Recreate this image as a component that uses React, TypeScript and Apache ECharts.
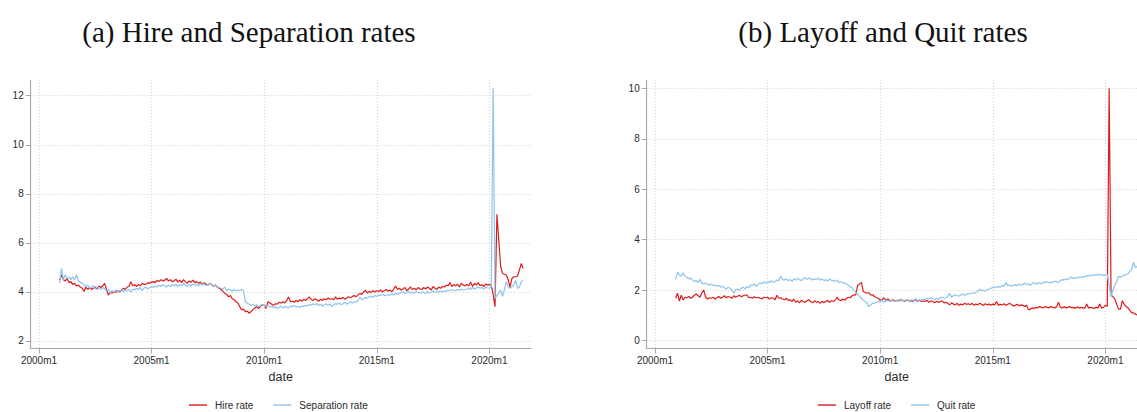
import React, { useEffect, useRef } from "react";
import * as echarts from "echarts";

// months are counted from 2000m1 (= 0); the series start in 2000m12
const START_MONTH = 11;

const titles = ["(a) Hire and Separation rates", "(b) Layoff and Quit rates"];
const seriesNames = ["Hire rate", "Separation rate", "Layoff rate", "Quit rate"];

const xTickMonths = [0, 60, 120, 180, 240];
const yTicksA = [2, 4, 6, 8, 10, 12];
const yTicksB = [0, 2, 4, 6, 8, 10];

const hireRate = [
  4.48,
  4.69, 4.5, 4.45, 4.55, 4.38, 4.42, 4.3, 4.35, 4.24, 4.28, 4.2, 4.15,
  4.02, 4.2, 4.1, 4.18, 4.1, 4.15, 4.2, 4.12, 4.24, 4.18, 4.25, 4.35,
  4.1, 3.87, 4.0, 3.95, 4.02, 3.98, 4.05, 4.0, 4.08, 4.15, 4.1, 4.2,
  4.22, 4.42, 4.25, 4.3, 4.22, 4.3, 4.25, 4.35, 4.3, 4.32, 4.38, 4.35,
  4.4, 4.42, 4.38, 4.48, 4.42, 4.5, 4.45, 4.48, 4.55, 4.45, 4.5, 4.42,
  4.45, 4.52, 4.4, 4.48, 4.38, 4.5, 4.42, 4.35, 4.45, 4.4, 4.48, 4.38,
  4.42, 4.35, 4.4, 4.3, 4.38, 4.32, 4.28, 4.35, 4.3, 4.22, 4.28, 4.2,
  4.15, 4.1, 4.02, 3.95, 3.9, 3.8, 3.85, 3.72, 3.68, 3.6, 3.55, 3.4,
  3.26, 3.3, 3.2, 3.22, 3.13, 3.2, 3.28, 3.35, 3.4, 3.32, 3.42, 3.47,
  3.47, 3.33, 3.6, 3.55, 3.5, 3.45, 3.52, 3.5, 3.58, 3.55, 3.6, 3.55,
  3.65, 3.8, 3.6, 3.62, 3.58, 3.65, 3.6, 3.68, 3.62, 3.7, 3.65, 3.72,
  3.8, 3.7, 3.65, 3.72, 3.68, 3.62, 3.7, 3.65, 3.72, 3.68, 3.75, 3.7,
  3.72, 3.68, 3.8, 3.7, 3.75, 3.72, 3.78, 3.7, 3.75, 3.8, 3.76, 3.82,
  3.85, 3.8, 3.88, 3.94, 3.9, 4.0, 4.07, 3.95, 4.02, 3.98, 4.05, 4.0,
  4.05, 4.02, 4.08, 4.0, 4.05, 4.1, 4.03, 4.08, 4.0, 4.12, 4.24, 4.1,
  4.15, 4.08, 4.12, 4.18, 4.05, 4.12, 4.2, 4.1, 4.15, 4.08, 4.18, 4.12,
  4.1, 4.18, 4.12, 4.2, 4.15, 4.08, 4.22, 4.15, 4.1, 4.2, 4.15, 4.22,
  4.2, 4.28, 4.25, 4.38, 4.22, 4.3, 4.25, 4.32, 4.2, 4.35, 4.28, 4.25,
  4.3, 4.25, 4.4, 4.22, 4.35, 4.28, 4.38, 4.25, 4.3, 4.22, 4.32, 4.28,
  4.31, 4.25, 3.9, 3.4, 7.17, 6.1, 5.03, 4.76, 4.72, 4.69, 4.5, 4.2,
  4.55, 4.62, 4.62, 4.65, 4.9, 5.16, 4.96,
];

const separationRate = [
  4.35,
  4.96, 4.5, 4.7, 4.55, 4.6, 4.5, 4.62, 4.5, 4.69, 4.45, 4.4, 4.35,
  4.3, 4.22, 4.28, 4.15, 4.2, 4.25, 4.12, 4.2, 4.15, 4.1, 4.18, 4.12,
  4.05, 4.1, 3.95, 4.05, 4.0, 4.08, 4.02, 4.05, 4.1, 4.0, 4.08, 4.05,
  4.1, 4.0, 4.12, 4.08, 4.15, 4.1, 4.18, 4.05, 4.15, 4.2, 4.12, 4.18,
  4.22, 4.18, 4.25, 4.2, 4.28, 4.22, 4.3, 4.25, 4.2, 4.28, 4.22, 4.3,
  4.25, 4.32, 4.22, 4.3, 4.25, 4.35, 4.28, 4.22, 4.3, 4.25, 4.32, 4.28,
  4.3, 4.25, 4.35, 4.28, 4.32, 4.25, 4.3, 4.35, 4.28, 4.22, 4.3, 4.2,
  4.18, 4.15, 4.1, 4.2, 4.05, 4.12, 4.08, 4.02, 4.1, 4.05, 4.08, 4.05,
  4.1, 4.05, 3.6, 3.55, 3.5, 3.45, 3.5, 3.42, 3.48, 3.4, 3.45, 3.5,
  3.47, 3.4, 3.45, 3.38, 3.42, 3.35, 3.4, 3.32, 3.38, 3.42, 3.35, 3.4,
  3.38, 3.35, 3.42, 3.4, 3.45, 3.38, 3.42, 3.36, 3.44, 3.4, 3.46, 3.42,
  3.5, 3.45, 3.52, 3.48, 3.53, 3.45, 3.5, 3.42, 3.48, 3.52, 3.46, 3.5,
  3.4, 3.48, 3.52, 3.5, 3.55, 3.48, 3.52, 3.58, 3.5, 3.55, 3.6, 3.55,
  3.6, 3.58, 3.65, 3.8, 3.68, 3.72, 3.78, 3.75, 3.8, 3.82, 3.78, 3.85,
  3.82, 3.88, 3.85, 3.9, 3.87, 3.84, 3.9, 3.86, 3.92, 3.88, 3.95, 3.9,
  3.95, 3.98, 4.0, 3.92, 3.98, 4.02, 3.95, 4.0, 3.96, 4.02, 3.98, 3.95,
  3.98, 4.0, 3.92, 4.02, 3.96, 4.0, 4.05, 3.98, 4.02, 4.0, 4.04, 4.0,
  4.05, 4.02, 4.08, 4.05, 4.1, 4.07, 4.04, 4.1, 4.06, 4.12, 4.08, 4.1,
  4.12, 4.15, 4.1, 4.18, 4.12, 4.16, 4.2, 4.15, 4.18, 4.12, 4.2, 4.16,
  4.15, 4.2, 12.3, 3.74, 3.85, 3.95, 4.08, 3.82, 4.1, 4.42, 4.2, 4.15,
  4.2, 4.3, 4.48, 4.15, 4.2, 4.42, 4.5,
];

const layoffRate = [
  1.68,
  1.88, 1.57, 1.8, 1.62, 1.72, 1.7, 1.75, 1.68, 1.72, 1.8, 1.85, 1.78,
  1.72, 1.9, 2.0, 1.72, 1.65, 1.7, 1.68, 1.72, 1.65, 1.7, 1.75, 1.68,
  1.72, 1.78, 1.7, 1.75, 1.72, 1.68, 1.78, 1.72, 1.76, 1.8, 1.74, 1.78,
  1.8, 1.82, 1.7, 1.72, 1.68, 1.74, 1.7, 1.72, 1.68, 1.65, 1.72, 1.7,
  1.72, 1.65, 1.7, 1.68, 1.62, 1.8, 1.68, 1.7, 1.65, 1.62, 1.68, 1.6,
  1.62, 1.55, 1.65, 1.52, 1.58, 1.5, 1.6, 1.55, 1.52, 1.58, 1.62, 1.55,
  1.5, 1.58, 1.52, 1.55, 1.48, 1.56, 1.5, 1.55, 1.6, 1.52, 1.58, 1.55,
  1.6, 1.72, 1.62, 1.58, 1.65, 1.6, 1.68, 1.72, 1.7, 1.78, 1.82, 1.8,
  2.2, 2.25, 2.31, 1.94, 1.92, 1.88, 1.9, 1.8, 1.82, 1.75, 1.7, 1.68,
  1.6, 1.62, 1.7, 1.58, 1.65, 1.6, 1.58, 1.62, 1.55, 1.6, 1.58, 1.62,
  1.6, 1.55, 1.62, 1.58, 1.6, 1.55, 1.58, 1.62, 1.56, 1.6, 1.55, 1.58,
  1.55, 1.6, 1.52, 1.58, 1.55, 1.5, 1.56, 1.52, 1.55, 1.58, 1.5, 1.52,
  1.48, 1.42, 1.5, 1.45, 1.42, 1.48, 1.4, 1.45, 1.42, 1.48, 1.44, 1.46,
  1.42, 1.48, 1.4, 1.45, 1.42, 1.48, 1.44, 1.4, 1.46, 1.42, 1.45, 1.4,
  1.45, 1.42, 1.55, 1.4, 1.44, 1.42, 1.46, 1.4, 1.44, 1.48, 1.42, 1.38,
  1.4, 1.44, 1.38, 1.42, 1.4, 1.36, 1.4, 1.22, 1.25, 1.3, 1.28, 1.32,
  1.3, 1.35, 1.32, 1.3, 1.36, 1.32, 1.3, 1.35, 1.32, 1.3, 1.34, 1.52,
  1.32, 1.3, 1.34, 1.3, 1.32, 1.35, 1.3, 1.32, 1.28, 1.34, 1.3, 1.32,
  1.3, 1.28, 1.45, 1.3, 1.32, 1.3, 1.28, 1.32, 1.3, 1.45, 1.3, 1.32,
  1.41, 1.35, 10.0, 1.8, 1.75, 1.65, 1.45, 1.25, 1.25, 1.58, 1.45, 1.35,
  1.3, 1.2, 1.1, 1.1, 1.05, 1.02, 1.0,
];

const quitRate = [
  2.43,
  2.73, 2.6, 2.55, 2.69, 2.55, 2.5, 2.45, 2.48, 2.4, 2.35, 2.38, 2.3,
  2.43, 2.27, 2.25, 2.3, 2.22, 2.2, 2.25, 2.18, 2.2, 2.15, 2.2, 2.12,
  2.15, 2.1, 2.05, 2.12, 2.08, 2.0, 1.88, 2.02, 2.05, 2.0, 2.08, 2.12,
  2.05, 2.15, 2.1, 2.2, 2.18, 2.25, 2.15, 2.22, 2.3, 2.25, 2.32, 2.28,
  2.34, 2.3, 2.38, 2.32, 2.35, 2.4, 2.38, 2.56, 2.42, 2.4, 2.45, 2.38,
  2.42, 2.35, 2.45, 2.4, 2.48, 2.42, 2.38, 2.45, 2.5, 2.42, 2.48, 2.45,
  2.4, 2.45, 2.42, 2.48, 2.4, 2.45, 2.38, 2.42, 2.36, 2.44, 2.4, 2.38,
  2.35, 2.4, 2.3, 2.35, 2.28, 2.3, 2.25, 2.2, 2.15, 2.1, 2.0, 1.92,
  1.85, 1.75, 1.68, 1.6, 1.55, 1.5, 1.35, 1.42, 1.48, 1.5, 1.52, 1.55,
  1.55, 1.6, 1.52, 1.58, 1.6, 1.55, 1.62, 1.58, 1.55, 1.6, 1.62, 1.58,
  1.6, 1.58, 1.62, 1.6, 1.55, 1.62, 1.6, 1.65, 1.58, 1.62, 1.6, 1.65,
  1.62, 1.68, 1.65, 1.7, 1.66, 1.62, 1.68, 1.64, 1.7, 1.72, 1.68, 1.7,
  1.75, 1.88, 1.72, 1.78, 1.82, 1.8, 1.76, 1.82, 1.85, 1.8, 1.84, 1.88,
  1.85, 1.9, 1.88, 1.92, 1.95, 2.04, 1.98, 2.0, 1.96, 2.02, 2.05, 2.08,
  2.1, 2.14, 2.1, 2.15, 2.12, 2.2, 2.15, 2.3, 2.18, 2.2, 2.16, 2.2,
  2.22, 2.18, 2.25, 2.2, 2.24, 2.28, 2.22, 2.25, 2.2, 2.26, 2.3, 2.24,
  2.28, 2.3, 2.25, 2.32, 2.3, 2.35, 2.28, 2.32, 2.3, 2.36, 2.34, 2.3,
  2.38, 2.42, 2.4, 2.45, 2.42, 2.48, 2.53, 2.45, 2.5, 2.48, 2.52, 2.5,
  2.55, 2.52, 2.58, 2.55, 2.6, 2.56, 2.62, 2.58, 2.64, 2.6, 2.62, 2.58,
  2.6, 2.62, 2.2, 1.74, 2.0, 2.2, 2.34, 2.55, 2.5, 2.55, 2.6, 2.62,
  2.65, 2.75, 2.84, 3.1, 2.9, 2.95, 3.0,
];

const RED = "#df1b1b";
const BLUE = "#8cc4ec";
const SANS = "'Liberation Sans', Arial, Helvetica, sans-serif";
const SERIF = "'Liberation Serif', 'Times New Roman', serif";
const AXIS_COLOR = "#a9a9a9";
const TEXT_COLOR = "#2b2b2b";

const toPairs = (arr: number[]) => arr.map((v, i) => [START_MONTH + i, v]);

const gridLine = {
  show: true,
  lineStyle: { color: "#d2d2d2", type: [1, 2], width: 1 },
};

function makeXAxis(gridIndex: number) {
  return {
    type: "value",
    gridIndex,
    min: -4.4,
    max: 262,
    name: "date",
    nameLocation: "middle",
    nameGap: 22,
    nameTextStyle: { fontFamily: SANS, fontSize: 12.5, color: TEXT_COLOR },
    axisLine: { show: true, onZero: false, lineStyle: { color: AXIS_COLOR, width: 1.2 } },
    axisTick: { show: true, length: 5, customValues: xTickMonths, lineStyle: { color: AXIS_COLOR, width: 1 } },
    axisLabel: {
      customValues: xTickMonths,
      formatter: (v: number) => `${2000 + Math.round(v / 12)}m1`,
      fontFamily: SANS,
      fontSize: 10,
      color: TEXT_COLOR,
      margin: 7,
    },
    splitLine: gridLine,
  };
}

function makeYAxis(gridIndex: number, min: number, max: number, ticks: number[]) {
  return {
    type: "value",
    gridIndex,
    min,
    max,
    axisLine: { show: true, onZero: false, lineStyle: { color: AXIS_COLOR, width: 1.2 } },
    axisTick: { show: true, length: 5, customValues: ticks, lineStyle: { color: AXIS_COLOR, width: 1 } },
    axisLabel: {
      customValues: ticks,
      fontFamily: SANS,
      fontSize: 10,
      color: TEXT_COLOR,
      margin: 7,
    },
    splitLine: gridLine,
  };
}

function makeLine(name: string, data: number[], color: string, idx: number) {
  return {
    type: "line",
    name,
    xAxisIndex: idx,
    yAxisIndex: idx,
    data: toPairs(data),
    symbol: "none",
    showSymbol: false,
    silent: true,
    lineStyle: { color, width: 1.2 },
    itemStyle: { color },
  };
}

export default function App() {
  const ref = useRef<HTMLDivElement>(null);

  useEffect(() => {
    if (!ref.current) return;
    const chart = echarts.init(ref.current, null, { renderer: "svg" });
    const legendCommon = {
      top: 400,
      padding: 0,
      icon: "rect",
      itemWidth: 18,
      itemHeight: 1.4,
      itemGap: 20,
      selectedMode: false,
      textStyle: { fontFamily: SANS, fontSize: 10, color: TEXT_COLOR, padding: [0, 0, 0, 3] },
    };
    chart.setOption({
      animation: false,
      backgroundColor: "#ffffff",
      grid: [
        { left: 30.7, top: 80, width: 500, height: 268.5, outerBoundsMode: "none", containLabel: false },
        { left: 646.7, top: 80, width: 500, height: 268.5, outerBoundsMode: "none", containLabel: false },
      ],
      xAxis: [makeXAxis(0), makeXAxis(1)],
      yAxis: [makeYAxis(0, 1.694, 12.64, yTicksA), makeYAxis(1, -0.31, 10.33, yTicksB)],
      legend: [
        { ...legendCommon, left: 189, data: [seriesNames[0], seriesNames[1]] },
        { ...legendCommon, left: 818, data: [seriesNames[2], seriesNames[3]] },
      ],
      graphic: [
        {
          type: "text",
          style: { text: titles[0], x: 249, y: 32, align: "center", verticalAlign: "middle", fontFamily: SERIF, fontSize: 29, fill: "#111" },
        },
        {
          type: "text",
          style: { text: titles[1], x: 883, y: 32, align: "center", verticalAlign: "middle", fontFamily: SERIF, fontSize: 29, fill: "#111" },
        },
      ],
      series: [
        makeLine(seriesNames[0], hireRate, RED, 0),
        makeLine(seriesNames[1], separationRate, BLUE, 0),
        makeLine(seriesNames[2], layoffRate, RED, 1),
        makeLine(seriesNames[3], quitRate, BLUE, 1),
      ],
    });
    return () => chart.dispose();
  }, []);

  return (
    <div
      ref={ref}
      style={{ position: "fixed", left: 0, top: 0, width: 1137, height: 412, background: "#fff" }}
    />
  );
}
